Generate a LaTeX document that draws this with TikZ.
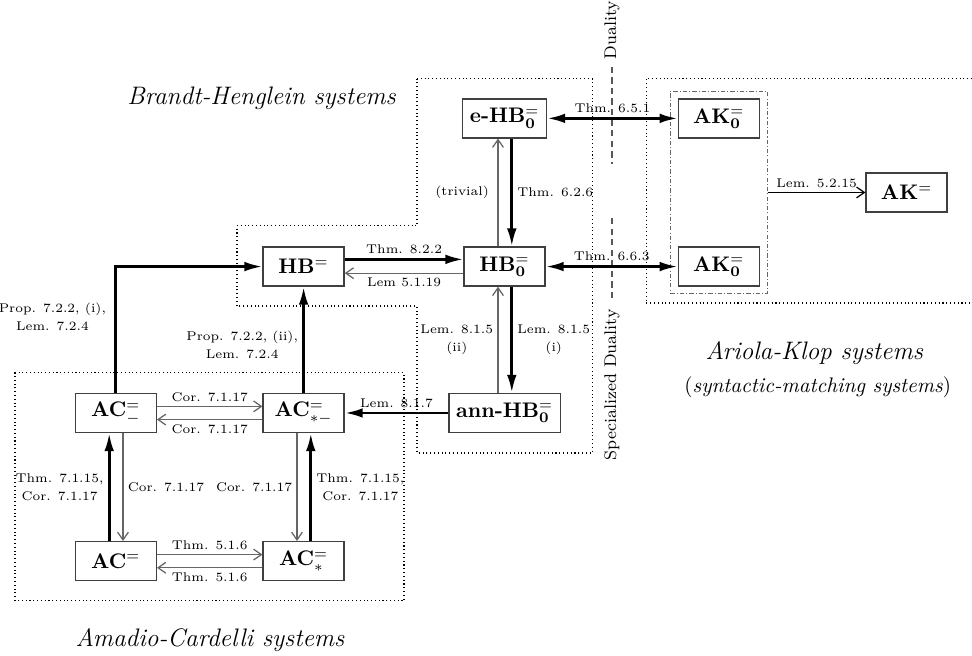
\documentclass[tikz,border=0pt]{standalone}
\usepackage{amsmath,amssymb}
\usetikzlibrary{arrows.meta,fit}

\tikzset{
  sys/.style={draw=black!75,line width=0.6pt,minimum width=1.35cm,minimum height=0.65cm,inner sep=0.12cm,font=\bfseries},
  proof/.style={line width=1.3pt,-{Latex[length=3mm,width=1.6mm]}},
  proofboth/.style={line width=1.3pt,{Latex[length=3mm,width=1.6mm]}-{Latex[length=3mm,width=1.6mm]}},
  easy/.style={draw=black!60,line width=0.6pt,-{Straight Barb[length=1.3mm,width=1.8mm]}},
  plainarr/.style={line width=0.6pt,-{Straight Barb[length=1.3mm,width=1.8mm]}},
  lbl/.style={font=\fontsize{6}{8.5}\selectfont,align=center,inner sep=2pt},
  area/.style={line width=0.5pt,dash pattern=on 0.5pt off 1.3pt},
  dualline/.style={draw=black!65,line width=0.8pt,dash pattern=on 3pt off 2pt},
  areaname/.style={font=\large\itshape},
}

\begin{document}
\begin{tikzpicture}[x=1cm,y=1cm]
  \useasboundingbox (0,0) rectangle (16.2,10.933);
  % regions (dotted)
  \draw[area] (6.95,9.617) -- (9.867,9.617) -- (9.867,3.383) -- (6.95,3.383) -- (6.95,5.833) -- (3.95,5.833) -- (3.95,7.167) -- (6.95,7.167) -- cycle;
  \draw[area] (0.25,0.917) rectangle (6.733,4.717);
  \draw[area] (16.2,9.617) -- (10.767,9.617) -- (10.767,5.883) -- (16.2,5.883);
  \node[areaname] (bhname) at (4.36,9.3) {Brandt-Henglein systems};
  \node[areaname] (acname) at (3.5,0.27) {Amadio-Cardelli systems};
  \node[areaname] (akname) at (13.57,5.05) {Ariola-Klop systems};
  \node (aksub) at (13.63,4.48) {(\textit{syntactic-matching systems})};

  % duality lines
  \node[font=\footnotesize,rotate=90] (dual) at (10.2,10.43) {Duality};
  \coordinate (dualend) at (10.2,8.2);
  \draw[dualline] (dual.west) -- (dualend);
  \node[font=\footnotesize,rotate=90] (specdual) at (10.2,4.52) {Specialized Duality};
  \coordinate (specstart) at (10.2,7.3);
  \draw[dualline] (specstart) -- (specdual.east);

  % systems
  \node[sys] (eHB) at (8.41,8.96) {e-HB$^{=}_{\mathbf{0}}$};
  \node[sys] (HBz) at (8.41,6.49) {HB$^{=}_{\mathbf{0}}$};
  \node[sys] (HB) at (5.06,6.49) {HB$^{=}$};
  \node[sys] (annHB) at (8.41,4.05) {ann-HB$^{=}_{\mathbf{0}}$};
  \node[sys] (AKt) at (11.98,8.96) {AK$^{=}_{\mathbf{0}}$};
  \node[sys] (AKb) at (11.98,6.49) {AK$^{=}_{\mathbf{0}}$};
  \node[sys] (AK) at (15.11,7.725) {AK$^{=}$};
  \node[sys] (ACm) at (1.93,4.05) {AC$^{=}_{-}$};
  \node[sys] (ACsm) at (5.06,4.05) {AC$^{=}_{*-}$};
  \node[sys] (AC) at (1.93,1.58) {AC$^{=}$};
  \node[sys] (ACs) at (5.06,1.58) {AC$^{=}_{*}$};
  \node[draw=black!60,line width=0.5pt,dash pattern=on 2pt off 1pt on 0.5pt off 1pt,fit=(AKt)(AKb),inner sep=0.12cm] (AKgrp) {};

  % Brandt-Henglein part
  \draw[proofboth] (eHB) -- (AKt) node[lbl,midway,above] {Thm. 6.5.1};
  \draw[proofboth] (HBz) -- (AKb) node[lbl,midway,above] {Thm. 6.6.3};
  \draw[proof] ([xshift=0.12cm]eHB.south) -- ([xshift=0.12cm]HBz.north) node[lbl,midway,right] {Thm. 6.2.6};
  \draw[easy] ([xshift=-0.11cm]HBz.north) -- ([xshift=-0.11cm]eHB.south) node[lbl,midway,left,xshift=-2pt] {(trivial)};
  \draw[proof] ([yshift=0.12cm]HB.east) -- ([yshift=0.12cm]HBz.west) node[lbl,midway,above] {Thm. 8.2.2};
  \draw[easy] ([yshift=-0.11cm]HBz.west) -- ([yshift=-0.11cm]HB.east) node[lbl,midway,below] {Lem 5.1.19};
  \draw[proof] ([xshift=0.12cm]HBz.south) -- ([xshift=0.12cm]annHB.north) node[lbl,midway,right] {Lem. 8.1.5\\(i)};
  \draw[easy] ([xshift=-0.11cm]annHB.north) -- ([xshift=-0.11cm]HBz.south) node[lbl,midway,left] {Lem. 8.1.5\\(ii)};
  \draw[proof] (annHB) -- (ACsm) node[lbl,midway,above] {Lem. 8.1.7};
  \draw[plainarr] (AKgrp) -- (AK) node[lbl,midway,above] {Lem. 5.2.15};

  % Amadio-Cardelli part
  \draw[proof] (ACm.north) |- (HB.west) node[lbl,pos=0.3,left,xshift=-2pt] {Prop. 7.2.2, (i),\\Lem. 7.2.4};
  \draw[proof] (ACsm) -- (HB) node[lbl,pos=0.45,left] {Prop. 7.2.2, (ii),\\Lem. 7.2.4};
  \draw[easy] ([yshift=0.11cm]ACm.east) -- ([yshift=0.11cm]ACsm.west) node[lbl,midway,above] {Cor. 7.1.17};
  \draw[easy] ([yshift=-0.11cm]ACsm.west) -- ([yshift=-0.11cm]ACm.east) node[lbl,midway,below] {Cor. 7.1.17};
  \draw[proof] ([xshift=-0.11cm]AC.north) -- ([xshift=-0.11cm]ACm.south) node[lbl,midway,left] {Thm. 7.1.15,\\Cor. 7.1.17};
  \draw[easy] ([xshift=0.12cm]ACm.south) -- ([xshift=0.12cm]AC.north) node[lbl,midway,right] {Cor. 7.1.17};
  \draw[easy] ([xshift=-0.11cm]ACsm.south) -- ([xshift=-0.11cm]ACs.north) node[lbl,midway,left] {Cor. 7.1.17};
  \draw[proof] ([xshift=0.12cm]ACs.north) -- ([xshift=0.12cm]ACsm.south) node[lbl,midway,right] {Thm. 7.1.15,\\Cor. 7.1.17};
  \draw[easy] ([yshift=0.11cm]AC.east) -- ([yshift=0.11cm]ACs.west) node[lbl,midway,above] {Thm. 5.1.6};
  \draw[easy] ([yshift=-0.11cm]ACs.west) -- ([yshift=-0.11cm]AC.east) node[lbl,midway,below] {Thm. 5.1.6};
\end{tikzpicture}
\end{document}
